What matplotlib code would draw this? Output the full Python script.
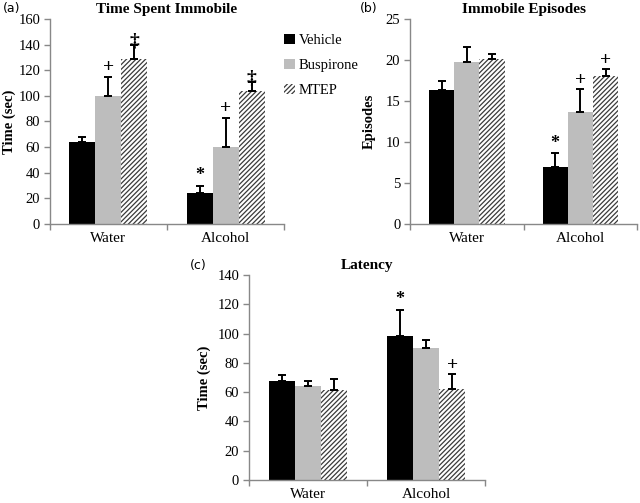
import numpy as np
import matplotlib.pyplot as plt

plt.rcParams['font.family'] = ['Liberation Serif', 'DejaVu Serif']

groups = ['Water', 'Alcohol']
treatments = ['Vehicle', 'Buspirone', 'MTEP']

# (a) Time spent immobile (sec)
imm_time = {'Vehicle': [64, 24], 'Buspirone': [100, 60], 'MTEP': [129, 104]}
imm_time_err = {'Vehicle': [4, 6], 'Buspirone': [15, 23], 'MTEP': [11, 7]}
imm_time_marks = {'Vehicle': ['', '*'], 'Buspirone': ['+', '+'], 'MTEP': ['\u2021', '\u2021']}

# (b) Immobile episodes
episodes = {'Vehicle': [16.3, 6.9], 'Buspirone': [19.8, 13.6], 'MTEP': [20.1, 18.0]}
episodes_err = {'Vehicle': [1.1, 1.7], 'Buspirone': [1.8, 2.8], 'MTEP': [0.6, 0.9]}
episodes_marks = {'Vehicle': ['', '*'], 'Buspirone': ['', '+'], 'MTEP': ['', '+']}

# (c) Latency (sec)
latency = {'Vehicle': [67.8, 98.3], 'Buspirone': [64, 90.4], 'MTEP': [61.2, 62.4]}
latency_err = {'Vehicle': [3.7, 17.7], 'Buspirone': [3.6, 5.4], 'MTEP': [7.5, 9.8]}
latency_marks = {'Vehicle': ['', '*'], 'Buspirone': ['', ''], 'MTEP': ['', '+']}

colors = {'Vehicle': 'black', 'Buspirone': '#bdbdbd', 'MTEP': 'white'}
plt.rcParams['hatch.linewidth'] = 0.9
plt.rcParams['hatch.color'] = '#3a3a3a'

fig = plt.figure(figsize=(6.4, 5.03), dpi=100)


def panel(rect, data, err, marks, ymax, ystep, ylabel, title, label_x):
    ax = fig.add_axes(rect)
    x = np.arange(len(groups))
    w = 0.222
    unit = ymax / 160.0
    for i, t in enumerate(treatments):
        pos = x + (i - 1) * w
        kw = dict(color=colors[t], width=w, label=t, zorder=2)
        if t == 'MTEP':
            kw.update(hatch='///////', edgecolor='#3a3a3a', linewidth=0)
        ax.bar(pos, data[t], **kw)
        ax.errorbar(pos, data[t], yerr=[np.zeros(len(groups)), err[t]], fmt='none',
                    ecolor='black', elinewidth=1.4, capsize=3, capthick=1.4, zorder=3)
        for p, v, e, m in zip(pos, data[t], err[t], marks[t]):
            if m:
                pad = {'*': 8, '+': 7, '\u2021': 3}[m] * unit
                ax.text(p, v + e + pad, m, ha='center', va='center',
                        fontsize=14 if m != '*' else 13, fontweight='bold')
    ax.set_xlim(-0.5, 1.5)
    ax.set_ylim(0, ymax)
    ax.set_yticks(np.arange(0, ymax + 0.01, ystep))
    ax.set_xticks(x)
    ax.set_xticklabels(groups)
    ax.set_xticks([-0.5, 0.5, 1.5], minor=True)
    ax.tick_params(axis='x', which='major', length=0, labelsize=11, pad=6)
    ax.tick_params(axis='x', which='minor', length=4, color='#888888', width=1)
    ax.tick_params(axis='y', length=4, color='#888888', width=1, labelsize=10.5, pad=3)
    for s in ['top', 'right']:
        ax.spines[s].set_visible(False)
    for s in ['left', 'bottom']:
        ax.spines[s].set_color('#888888')
        ax.spines[s].set_linewidth(1)
    ax.set_ylabel(ylabel, fontsize=10.5, fontweight='bold')
    ax.yaxis.set_label_coords(label_x, 0.5)
    ax.set_title(title, fontsize=11, fontweight='bold', pad=4)
    return ax


ax_a = panel([0.078, 0.5547, 0.366, 0.4076], imm_time, imm_time_err, imm_time_marks,
             160, 20, 'Time (sec)', 'Time Spent Immobile', -0.145)
ax_b = panel([0.6406, 0.5547, 0.355, 0.4076], episodes, episodes_err, episodes_marks,
             25, 5, 'Episodes', 'Immobile Episodes', -0.15)
ax_c = panel([0.389, 0.0457, 0.369, 0.4076], latency, latency_err, latency_marks,
             140, 20, 'Time (sec)', 'Latency', -0.16)

fig.text(0.005, 0.984, '(a)', fontsize=9, family='DejaVu Sans', va='center')
fig.text(0.563, 0.984, '(b)', fontsize=9, family='DejaVu Sans', va='center')
fig.text(0.297, 0.473, '(c)', fontsize=9, family='DejaVu Sans', va='center')

handles, labels = ax_a.get_legend_handles_labels()
fig.legend(handles, labels, loc='upper left', bbox_to_anchor=(0.424, 0.958), frameon=False,
           fontsize=10.5, handlelength=0.7, handleheight=0.7, handletextpad=0.3,
           labelspacing=0.8)

fig.savefig('out.png', dpi=100)
